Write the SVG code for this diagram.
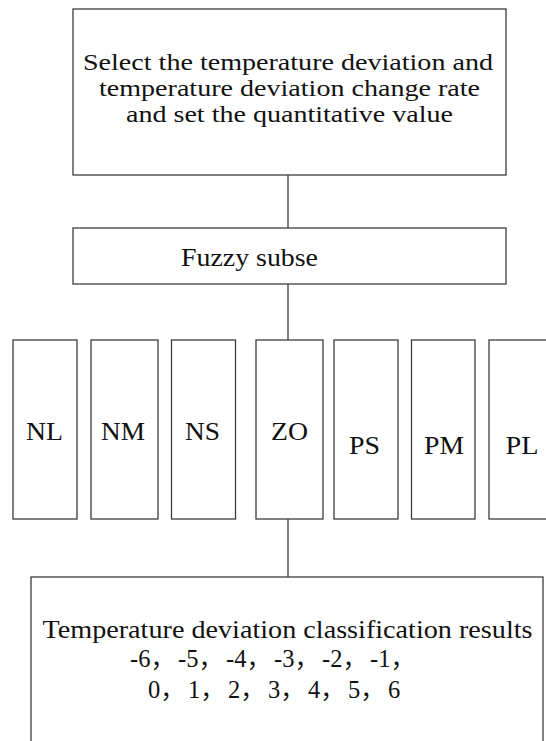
<svg xmlns="http://www.w3.org/2000/svg" width="546" height="741" viewBox="0 0 546 741">
  <style>
    .box { fill: #ffffff; stroke: #3c3c3c; stroke-width: 1.3; }
    .wire { fill: none; stroke: #3c3c3c; stroke-width: 1.3; }
    .t { font-size: 24.5px; fill: #111111; }
    .tight { font-size: 22.5px; }
    .c { text-anchor: middle; }
  </style>
  <rect width="546" height="741" fill="#ffffff"/>

  <!-- connectors between the stages -->
  <g id="connectors">
    <line class="wire" x1="288" y1="175" x2="288" y2="228"/>
    <line class="wire" x1="288" y1="284" x2="288" y2="340"/>
    <line class="wire" x1="288" y1="519" x2="288" y2="577"/>
  </g>

  <g font-family="'Liberation Serif', 'Noto Sans CJK SC', serif">
    <!-- input stage -->
    <g id="node-select">
      <rect class="box" x="73" y="9" width="433" height="166"/>
      <text class="t tight" x="83" y="70" textLength="410" lengthAdjust="spacingAndGlyphs">Select the temperature deviation and</text>
      <text class="t tight" x="99" y="96" textLength="381" lengthAdjust="spacingAndGlyphs">temperature deviation change rate</text>
      <text class="t tight" x="126" y="122" textLength="327" lengthAdjust="spacingAndGlyphs">and set the quantitative value</text>
    </g>

    <g id="node-fuzzy">
      <rect class="box" x="73" y="228" width="433" height="56"/>
      <text class="t" x="181" y="265.5" textLength="137" lengthAdjust="spacingAndGlyphs">Fuzzy subse</text>
    </g>

    <!-- fuzzy subsets -->
    <g id="node-NL">
      <rect class="box" x="13" y="340" width="64" height="179"/>
      <text class="t c" x="44.5" y="440" textLength="37" lengthAdjust="spacingAndGlyphs">NL</text>
    </g>
    <g id="node-NM">
      <rect class="box" x="91" y="340" width="67" height="179"/>
      <text class="t c" x="123" y="440" textLength="44" lengthAdjust="spacingAndGlyphs">NM</text>
    </g>
    <g id="node-NS">
      <rect class="box" x="171.5" y="340" width="64" height="179"/>
      <text class="t c" x="202.5" y="440" textLength="35" lengthAdjust="spacingAndGlyphs">NS</text>
    </g>
    <g id="node-ZO">
      <rect class="box" x="256" y="340" width="67" height="179"/>
      <text class="t c" x="289.5" y="440" textLength="37" lengthAdjust="spacingAndGlyphs">ZO</text>
    </g>
    <g id="node-PS">
      <rect class="box" x="334" y="340" width="64" height="179"/>
      <text class="t c" x="364.5" y="454" textLength="31" lengthAdjust="spacingAndGlyphs">PS</text>
    </g>
    <g id="node-PM">
      <rect class="box" x="411.5" y="340" width="63.5" height="179"/>
      <text class="t c" x="444" y="454" textLength="40" lengthAdjust="spacingAndGlyphs">PM</text>
    </g>
    <g id="node-PL">
      <rect class="box" x="489" y="340" width="70" height="179"/>
      <text class="t c" x="522" y="454" textLength="33" lengthAdjust="spacingAndGlyphs">PL</text>
    </g>

    <!-- result stage -->
    <g id="node-result">
      <rect class="box" x="31" y="577" width="512" height="180"/>
      <text class="t" x="42.5" y="638" textLength="490" lengthAdjust="spacingAndGlyphs">Temperature deviation classification results</text>
      <text class="t" y="667">
        <tspan x="130">-6，</tspan><tspan x="178">-5，</tspan><tspan x="226">-4，</tspan><tspan x="274">-3，</tspan><tspan x="322">-2，</tspan><tspan x="370">-1，</tspan>
      </text>
      <text class="t" y="698">
        <tspan x="148">0，</tspan><tspan x="188">1，</tspan><tspan x="228">2，</tspan><tspan x="268">3，</tspan><tspan x="308">4，</tspan><tspan x="348">5，</tspan><tspan x="388">6</tspan>
      </text>
    </g>
  </g>
</svg>
